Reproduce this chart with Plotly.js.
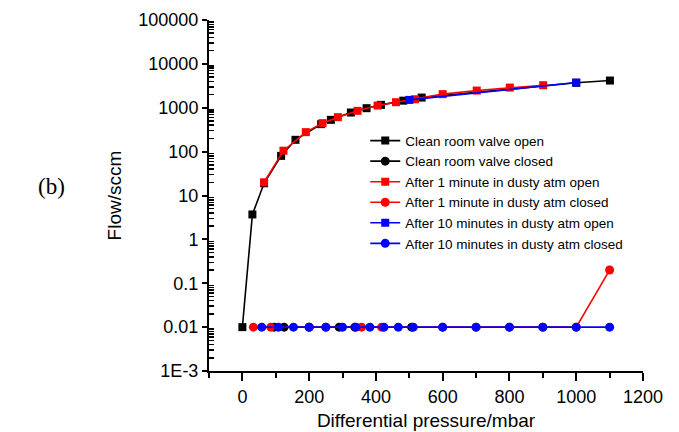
<!DOCTYPE html>
<html>
<head>
<meta charset="utf-8">
<script src="https://cdn.plot.ly/plotly-3.0.1.min.js"></script>
<style>html,body{margin:0;padding:0;background:#fff}#chart{width:679px;height:432px}</style>
</head>
<body>
<div id="chart"></div>
<script>
// ---- data ----
const cleanOpenX   = [0, 30, 65, 116, 159, 236, 265, 325, 372, 415, 482, 537, 1000, 1101];
const cleanOpenY   = [0.01, 3.7, 19, 80, 186, 423, 530, 778, 977, 1164, 1450, 1706, 3700, 4170];
const cleanClosedX = [95, 125, 200, 290, 337, 507];
const cleanClosedY = [0.01, 0.01, 0.01, 0.01, 0.01, 0.01];
const dust1OpenX   = [65, 123, 190, 240, 286, 345, 405, 460, 517, 600, 702, 801, 901];
const dust1OpenY   = [20, 105, 278, 446, 610, 850, 1122, 1337, 1560, 2040, 2466, 2880, 3260];
const dust1ClosedX = [33, 85, 200, 250, 357, 417, 600, 700, 800, 900, 1000, 1100];
const dust1ClosedY = [0.01, 0.01, 0.01, 0.01, 0.01, 0.01, 0.01, 0.01, 0.01, 0.01, 0.01, 0.2];
const dust10OpenX  = [500, 1000];
const dust10OpenY  = [1510, 3750];
const dust10ClosedX = [58, 108, 153, 200, 250, 300, 340, 382, 424, 467, 512, 600, 700, 800, 900, 1000, 1100];
const dust10ClosedY = [0.01, 0.01, 0.01, 0.01, 0.01, 0.01, 0.01, 0.01, 0.01, 0.01, 0.01, 0.01, 0.01, 0.01, 0.01, 0.01, 0.01];
const seriesNames = ["Clean room valve open", "Clean room valve closed",
  "After 1 minute in dusty atm open", "After 1 minute in dusty atm closed",
  "After 10 minutes in dusty atm open", "After 10 minutes in dusty atm closed"];
const yTickVals = [0.001, 0.01, 0.1, 1, 10, 100, 1000, 10000, 100000];
const yTickText = ["1E-3", "0.01", "0.1", "1", "10", "100", "1000", "10000", "100000"];

// minor tick positions (2..9 per decade)
const minorVals = [];
for (let e = -3; e < 5; e++) for (let k = 2; k <= 9; k++) minorVals.push(k * Math.pow(10, e));

function tr(x, y, name, color, symbol) {
  return {x: x, y: y, name: name, type: 'scatter', mode: 'lines+markers',
    line: {color: color, width: 1.6},
    marker: {color: color, symbol: symbol, size: symbol === 'square' ? 8 : 9, line: {width: 0}}};
}
const data = [
  tr(cleanOpenX, cleanOpenY, seriesNames[0], '#000000', 'square'),
  tr(cleanClosedX, cleanClosedY, seriesNames[1], '#000000', 'circle'),
  tr(dust1OpenX, dust1OpenY, seriesNames[2], '#ff0000', 'square'),
  tr(dust1ClosedX, dust1ClosedY, seriesNames[3], '#ff0000', 'circle'),
  tr(dust10OpenX, dust10OpenY, seriesNames[4], '#0000ff', 'square'),
  tr(dust10ClosedX, dust10ClosedY, seriesNames[5], '#0000ff', 'circle')
];

const font = "Liberation Sans, Arial, sans-serif";
const layout = {
  width: 679, height: 432,
  margin: {l: 209, r: 36, t: 20, b: 61},
  paper_bgcolor: '#fff', plot_bgcolor: '#fff',
  font: {family: font, color: '#000'},
  showlegend: true,
  legend: {x: 0.36, y: 0.70, xanchor: 'left', yanchor: 'top', bgcolor: 'rgba(0,0,0,0)',
    font: {family: font, size: 13.5, color: '#000'}, tracegroupgap: 0},
  xaxis: {range: [-100, 1200], showgrid: false, zeroline: false, showline: true, linewidth: 2, linecolor: '#000',
    ticks: 'outside', tickmode: 'linear', tick0: 0, dtick: 200, ticklen: 8, tickwidth: 2, tickcolor: '#000',
    minor: {ticks: 'outside', dtick: 100, tick0: 0, ticklen: 5, tickwidth: 2, tickcolor: '#000', showgrid: false},
    tickfont: {family: font, size: 18}, 
    title: {text: 'Differential pressure/mbar', font: {family: font, size: 19}, standoff: 8}},
  xaxis2: {range: [-100, 1200], overlaying: 'x', side: 'top', anchor: 'y', showgrid: false, zeroline: false,
    showline: true, linewidth: 2, linecolor: '#000', ticks: 'inside', tickmode: 'linear', tick0: 0, dtick: 100,
    ticklen: 7, tickwidth: 2, tickcolor: '#000', showticklabels: false},
  yaxis: {type: 'log', range: [-3, 5], showgrid: false, zeroline: false, showline: true, linewidth: 2, linecolor: '#000',
    ticks: 'outside', tickmode: 'array', tickvals: yTickVals, ticktext: yTickText, ticklen: 5, tickwidth: 2, tickcolor: '#000',
    minor: {ticks: 'inside', tickmode: 'array', tickvals: minorVals, ticklen: 5, tickwidth: 1.5, tickcolor: '#000', showgrid: false},
    tickfont: {family: font, size: 18},
    title: {text: 'Flow/sccm', font: {family: font, size: 19}, standoff: 12}},
  yaxis2: {type: 'log', range: [-3, 5], overlaying: 'y', side: 'right', anchor: 'x', showgrid: false, zeroline: false,
    showline: true, linewidth: 2, linecolor: '#000', ticks: 'inside', tickmode: 'array', tickvals: yTickVals,
    ticklen: 7, tickwidth: 2, tickcolor: '#000', showticklabels: false,
    minor: {ticks: 'inside', tickmode: 'array', tickvals: minorVals, ticklen: 5, tickwidth: 1.5, tickcolor: '#000', showgrid: false}},
  annotations: [{text: '(b)', xref: 'paper', yref: 'paper', x: -0.362, y: 0.525, xanchor: 'center', yanchor: 'middle',
    showarrow: false, font: {family: 'Liberation Serif, Times New Roman, serif', size: 23, color: '#000'}}]
};
Plotly.newPlot('chart', data, layout, {displayModeBar: false, staticPlot: true});
</script>
</body>
</html>
